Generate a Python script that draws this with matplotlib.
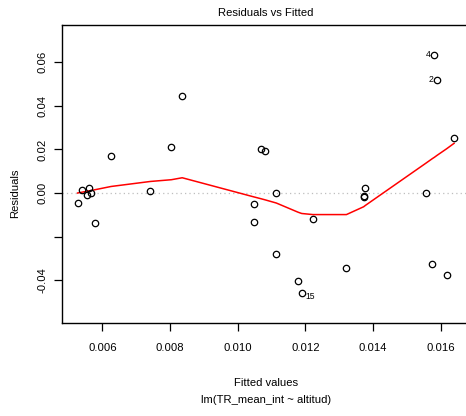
import numpy as np
import matplotlib
matplotlib.use("Agg")
import matplotlib.pyplot as plt

plt.rcParams['font.family'] = ['Liberation Sans', 'DejaVu Sans']

# fitted values and residuals of lm(TR_mean_int ~ altitud)
fitted = [0.00527, 0.00541, 0.00554, 0.00561, 0.00566, 0.00578, 0.00626,
          0.00742, 0.00804, 0.00836, 0.01048, 0.01048, 0.01068, 0.01080,
          0.01114, 0.01114, 0.01178, 0.01189, 0.01222, 0.01321, 0.01372,
          0.01372, 0.01377, 0.01555, 0.01575, 0.01581, 0.01588, 0.01617,
          0.01639]
resid = [-0.00474, 0.00150, -0.00106, 0.00216, -0.00010, -0.01390, 0.01697,
         0.00078, 0.02124, 0.04436, -0.00520, -0.01344, 0.02030, 0.01910,
         -0.00010, -0.02784, -0.04023, -0.04601, -0.01193, -0.03454, -0.00120,
         -0.00180, 0.00243, 0.00010, -0.03243, 0.06330, 0.05180, -0.03748,
         0.02510]

# lowess smoother through the residuals
smooth_x = [0.00527, 0.00541, 0.00554, 0.00561, 0.00566, 0.00578, 0.00626,
            0.00742, 0.00804, 0.00836, 0.01048, 0.01068, 0.01080, 0.01114,
            0.01178, 0.01189, 0.01222, 0.01321, 0.01372, 0.01377, 0.01555,
            0.01575, 0.01581, 0.01588, 0.01617, 0.01639]
smooth_y = [0.0000, 0.0004, 0.0008, 0.0010, 0.0011, 0.0015, 0.0030,
            0.0053, 0.0061, 0.0070, -0.0018, -0.0026, -0.0031, -0.0046,
            -0.0088, -0.0094, -0.0099, -0.0099, -0.0063, -0.0057, 0.0136,
            0.0158, 0.0164, 0.0172, 0.0203, 0.0228]

# labelled observations: (id, fitted, residual, side)
labels = [("4", 0.01581, 0.06330, "left"),
          ("2", 0.01588, 0.05180, "left"),
          ("15", 0.01189, -0.04601, "right")]

xticks = [0.006, 0.008, 0.010, 0.012, 0.014, 0.016]
yticks = [-0.04, -0.02, 0.00, 0.02, 0.04, 0.06]
ytick_labels = ["-0.04", "", "0.00", "0.02", "0.04", "0.06"]

fig = plt.figure(figsize=(4.66, 4.16), dpi=100)
ax = fig.add_axes([0.1337, 0.2228, 0.876, 0.7171])

ax.axhline(0, color="#BEBEBE", lw=0.9, ls=(0, (1, 2.5)), zorder=1)
ax.plot(smooth_x, smooth_y, color="red", lw=1.1, zorder=2)
ax.plot(fitted, resid, ls="none", marker="o", ms=4.6, mfc="none",
        mec="black", mew=0.9, zorder=3)

for lab, fx, fy, side in labels:
    if side == "left":
        ax.annotate(lab, (fx, fy), xytext=(-2.5, 0.5), textcoords="offset points",
                    ha="right", va="center", fontsize=6.2)
    else:
        ax.annotate(lab, (fx, fy), xytext=(2.5, -2), textcoords="offset points",
                    ha="left", va="center", fontsize=6.2)

ax.set_xlim(0.004818, 0.016876)
ax.set_ylim(-0.0598, 0.0771)
ax.set_xticks(xticks)
ax.set_xticklabels([f"{t:.3f}" for t in xticks])
ax.set_yticks(yticks)
ax.set_yticklabels(ytick_labels, rotation=90, va="center")
ax.tick_params(axis="both", length=5.5, width=0.9, labelsize=8.1, direction="out")
ax.tick_params(axis="x", pad=9)
ax.tick_params(axis="y", pad=5)
for s in ax.spines.values():
    s.set_linewidth(1.0)

fig.text(265.5 / 466, 1 - 13 / 416, "Residuals vs Fitted", ha="center",
         va="center", fontsize=8.1)
fig.text(265.8 / 466, 1 - 383 / 416, "Fitted values", ha="center",
         va="center", fontsize=8.1)
fig.text(265.8 / 466, 1 - 400 / 416, "lm(TR_mean_int ~ altitud)", ha="center",
         va="center", fontsize=8.1)
fig.text(15 / 466, 1 - 193 / 416, "Residuals", ha="center", va="center",
         rotation=90, fontsize=8.1)

fig.savefig("out.png", dpi=100)
